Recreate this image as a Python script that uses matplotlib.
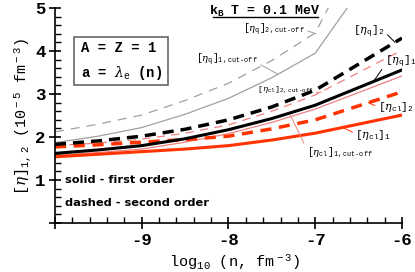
import matplotlib

matplotlib.use("Agg")
import matplotlib.pyplot as plt
from matplotlib.patches import Rectangle

plt.rcParams.update({
    "font.family": "Liberation Mono",
    "axes.unicode_minus": False,
    "lines.scale_dashes": False,
    "mathtext.fontset": "custom",
    "mathtext.rm": "Liberation Mono",
    "mathtext.tt": "Liberation Mono",
    "mathtext.it": "DejaVu Serif:italic",
    "mathtext.bf": "Liberation Mono:bold",
})

# log10(n) grid
logn = [-10, -9.5, -9, -8.5, -8, -7.5, -7, -6]

# [eta] in units of 1e-5 fm^-3
eta_q2_cut = [2.12, 2.30, 2.51, 2.85, 3.25, 3.78, 4.42, 8.3]
eta_q1_cut = [1.87, 2.02, 2.22, 2.53, 2.90, 3.38, 3.95, 6.8]
eta_q2 = [1.83, 1.91, 2.02, 2.18, 2.40, 2.70, 3.09, 4.30]
eta_cl2_cut = [1.80, 1.86, 1.95, 2.09, 2.28, 2.60, 2.98, 4.02]
eta_q1 = [1.62, 1.70, 1.80, 1.96, 2.17, 2.43, 2.74, 3.56]
eta_cl1_cut = [1.58, 1.64, 1.72, 1.88, 2.08, 2.34, 2.65, 3.42]
eta_cl2 = [1.77, 1.82, 1.88, 1.94, 2.02, 2.19, 2.40, 3.05]
eta_cl1 = [1.54, 1.60, 1.66, 1.72, 1.80, 1.93, 2.09, 2.51]

RED = "#ff3300"
PINK = "#f08080"
GRAY = "#a0a0a0"

fig = plt.figure(figsize=(4.15, 2.72), dpi=100)
ax = fig.add_axes([0.1325, 0.18, 0.8362, 0.7906])

ax.plot(logn, eta_q2_cut, color=GRAY, lw=0.9, dashes=(6.5, 5))
ax.plot(logn, eta_q1_cut, color=GRAY, lw=0.9)
ax.plot(logn, eta_cl2_cut, color=PINK, lw=0.9, dashes=(6, 4.5))
ax.plot(logn, eta_cl1_cut, color=PINK, lw=0.9)
ax.plot(logn, eta_cl2, color=RED, lw=2.5, dashes=(8, 5.5))
ax.plot(logn, eta_cl1, color=RED, lw=2.2)
ax.plot(logn, eta_q2, color="black", lw=2.5, dashes=(8, 5))
ax.plot(logn, eta_q1, color="black", lw=2.2)

ax.set_xlim(-10, -6)
ax.set_ylim(0, 5)
for s in ("top", "right"):
    ax.spines[s].set_visible(False)
ax.spines["left"].set_linewidth(1.2)
ax.spines["bottom"].set_linewidth(1.2)
ax.set_xticks([-10, -9, -8, -7, -6], ["", "-9", "-8", "-7", "-6"])
ax.set_yticks([0, 1, 2, 3, 4, 5], ["", "1", "2", "3", "4", "5"])
ax.set_xticks([-10 + 0.2 * i for i in range(21)], minor=True)
ax.set_yticks([0.2 * i for i in range(26)], minor=True)
ax.tick_params(which="major", direction="inout", length=8, width=1.2,
               labelsize=12.5, pad=3)
ax.tick_params(which="minor", direction="in", length=4, width=1.0)
for lab in ax.get_xticklabels() + ax.get_yticklabels():
    lab.set_fontweight("bold")

fig.text(0.055, 0.57, r"[$\eta$]$_{\rm 1,2}$ (10$^{\rm -5}$ fm$^{\rm -3}$)",
         rotation=90, ha="center", va="center", fontsize=11)
fig.text(0.566, 0.035, r"log$_{\rm 10}$ (n, fm$^{\rm -3}$)",
         ha="center", va="center", fontsize=11)

# title with underline
ax.text(0.605, 0.985, r"k$_{\mathbf{B}}$ T = 0.1 MeV", transform=ax.transAxes,
        ha="center", va="center", fontsize=9.5, fontweight="bold")
ax.plot([0.455, 0.758], [0.957, 0.957], transform=ax.transAxes,
        color="black", lw=1.0, clip_on=False)

# parameter box
ax.add_patch(Rectangle((0.055, 0.642), 0.271, 0.223, transform=ax.transAxes,
                       fill=False, edgecolor="#666666", lw=1.2))
ax.text(0.075, 0.812, "A = Z = 1", transform=ax.transAxes, fontsize=10,
        fontweight="bold", va="center")
ax.text(0.075, 0.70, r"a = $\lambda_{\rm e}$ (n)", transform=ax.transAxes,
        fontsize=10, fontweight="bold", va="center")

# legend text
ax.text(0.03, 0.2, "solid - first order", transform=ax.transAxes,
        family="DejaVu Sans", fontsize=8.2, fontweight="bold", va="center")
ax.text(0.03, 0.095, "dashed - second order", transform=ax.transAxes,
        family="DejaVu Sans", fontsize=8.2, fontweight="bold", va="center")

# curve labels
labels = [
    (r"[$\eta_{\rm q}$]$_{\rm 2,cut\text{-}off}$", (-6.99, 4.40), (-7.12, 4.49), "right", GRAY, (1, 0.5), 7),
    (r"[$\eta_{\rm q}$]$_{\rm 1,cut\text{-}off}$", (-7.43, 3.46), (-7.66, 3.79), "right", GRAY, (1, 0.3), 7),
    (r"[$\eta_{\rm q}$]$_{\rm 2}$", (-6.08, 4.20), (-6.56, 4.44), "left", "black", (1, 0.5), 8),
    (r"[$\eta_{\rm q}$]$_{\rm 1}$", (-6.33, 3.29), (-6.20, 3.74), "left", "black", (0, 0.3), 8),
    (r"[$\eta_{\rm cl}$]$_{\rm 2,cut\text{-}off}$", (-6.93, 3.04), (-7.02, 3.09), "right", PINK, (1, 0.3), 6),
    (r"[$\eta_{\rm cl}$]$_{\rm 2}$", (-6.39, 2.80), (-6.28, 2.70), "left", RED, (0, 0.5), 8),
    (r"[$\eta_{\rm cl}$]$_{\rm 1}$", (-6.68, 2.22), (-6.54, 2.05), "left", RED, (0, 0.6), 8),
    (r"[$\eta_{\rm cl}$]$_{\rm 1,cut\text{-}off}$", (-7.29, 2.52), (-7.10, 1.63), "left", PINK, (0, 0.8), 7),
]
for txt, xy, xyt, ha, col, rp, fs in labels:
    ax.annotate(txt, xy=xy, xytext=xyt, ha=ha, va="center", fontsize=fs,
                annotation_clip=False,
                arrowprops=dict(arrowstyle="-", color=col, lw=0.7,
                                shrinkA=0, shrinkB=0, relpos=rp))

fig.savefig("out.png", dpi=100)
